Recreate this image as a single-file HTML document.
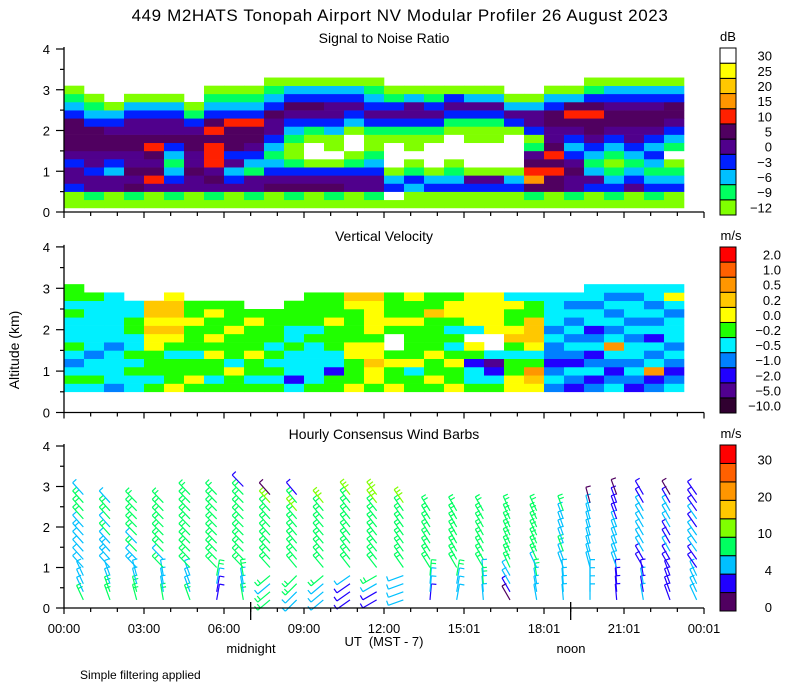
<!DOCTYPE html>
<html><head><meta charset="utf-8">
<style>
body{margin:0;background:#fff;}
svg{display:block;font-family:"Liberation Sans",sans-serif;}
</style></head>
<body>
<svg id="chart" width="800" height="700" viewBox="0 0 800 700" xmlns="http://www.w3.org/2000/svg">
<rect x="0" y="0" width="800" height="700" fill="#fff"/>
<text x="400" y="21" font-size="17" text-anchor="middle" letter-spacing="0.6">449 M2HATS Tonopah Airport NV Modular Profiler 26 August 2023</text>
<text x="384" y="43" font-size="14" text-anchor="middle">Signal to Noise Ratio</text>
<text x="384" y="241" font-size="14" text-anchor="middle">Vertical Velocity</text>
<text x="384" y="439" font-size="14" text-anchor="middle">Hourly Consensus Wind Barbs</text>
<text transform="translate(19,350) rotate(-90)" font-size="14" text-anchor="middle">Altitude (km)</text>
<text x="384" y="646" font-size="13" text-anchor="middle" xml:space="preserve">UT  (MST - 7)</text>
<text x="251" y="653" font-size="13" text-anchor="middle">midnight</text>
<text x="571" y="653" font-size="13" text-anchor="middle">noon</text>
<text x="80" y="679" font-size="12">Simple filtering applied</text>
<g id="snr"></g>
<g id="vv"></g>
<g id="wind"></g>
<g id="axes"></g>
<g id="bars"></g>
</svg>
<script>
// ---------- data ----------
const snrTimes = [0,0.75,1.5,2.25,3,3.75,4.5,5.25,6,6.75,7.5,8.25,9,9.75,10.5,11.25,12,12.75,13.5,14.25,15,15.75,16.5,17.25,18,18.75,19.5,20.25,21,21.75,22.5];
// columns: rows bottom->top, 0.2 km rows starting at 0.1 km
const snrCols = ["aadeedeffffdcba.","abeedeefffdcba..","aaeecdeffedca...","abfefeeffeedca..","aaegfefgfeedca..","abedcbcdfeedca..","aaeefeeffedba...","abefegggfgfdcba.","aaedcedfffgdcba.","abeebcdeffgdcba.","aafedcbcdeefdcba","abfedbaabcdefdca","aafedaWWabdefdca","abfedaWaacdeedca","aaeedbaWWacdedca","abeedcbaabdedcba","aWdcaWWWabdedba.","aacdbaWaabdeeca.","aadcaWWWabdedba.","aadcbaWWWabdeda.","aadeaWWWaabdeca.","aadeaWWWaabdeca.","aadcaWWWWadeca..","abfhgfebadeeca..","aaffgfgfeeffdca.","abeefedcdefgfca.","aadecbcdeffgfdba","abdcbabcdeffedca","aaedcbcdeeffedca","abdcbcdcdeffedca","aadcbaWbcdeffdca"];
const snrCodes = "abcdefghijW";
const snrLabels = ["-12","-9","-6","-3","0","5","10","15","20","25","30"];
const vvTimes = snrTimes;
// rows bottom->top, 0.2 km rows starting at 0.5 km
const vvCols = ["cgcbcgcccgcgg","cgccbccccccg.","bccccbcccccc.","ccgcgccggcc..","gcgggyyoyoo..","ygggcgyoyooy.","gyggcgggygg..","gcggygyggyg..","ggycgggyggg..","gcggygggyg...","gcgcgcgggg...","cBcccgccggg..","gcccccgcgggg.","ggBccgggyggg.","ygggyyggggyo.","gyyoyygyyyyo.","yggyg..gyggg.","ggcyggggyggy.","gyggyggggogg.","yggygcgcgyyg.","gccBgy.cyyyy.","gcBpc..yyyyy.","yyggcgoyggyc.","yoOgcyoooggc.","bcbBbbcbcccc.","BbcBbcbcbcbc.","bBcbBcbBccbcc","cbBbcOcbcbcbc","Bbcbccbcbccbc","bBOcbcBcbcbcc","cbBbcbcccbcyc"];
const vvCodes = "kpBbcgyoOar";
const vvLabels = ["-10.0","-5.0","-2.0","-1.0","-0.5","-0.2","0.0","0.2","0.5","1.0","2.0"];
const windHours = [0,1,2,3,4,5,6,7,8,9,10,11,12,13,14,15,16,17,18,19,20,21,22,23];
// speeds (m/s) at levels 0.2, 0.4, ... km
const windSpd = [
[8,5,5,5,5,5,5,5,6,5,8,8,7,5],[8,8,5,5,5,6,6,5,8,5,8,8,5],[8,8,5,5,6,5,8,5,8,8,8,8,8],[8,5,5,5,8,5,8,8,8,8,8,8,8],
[8,5,5,5,8,8,8,8,8,8,8,8,8,8],[3,3,5,8,8,8,8,8,8,8,8,8,8,8],[8,5,5,8,8,8,8,8,8,8,8,8,8,8,3],[8,8,5,8,8,8,8,8,8,8,8,8,11,1],
[5,5,8,8,8,8,8,8,8,8,8,11,8,3],[5,5,5,8,8,8,8,8,8,8,8,8,11],[3,3,3,5,8,8,8,8,8,8,8,8,8,11],[3,3,5,8,8,8,8,8,8,8,8,8,11,11],
[5,5,5,5,8,8,8,8,8,8,8,8,11],[3,5,5,8,8,8,8,8,8,8,8,8],[5,5,5,8,8,8,8,8,8,8,8,8],[5,5,8,5,8,8,8,8,8,8,8,8],
[1,3,5,5,8,8,8,8,8,8,8,8],[5,5,5,8,5,8,8,8,8,8,8,8],[5,5,5,5,5,5,8,5,5,5,5,8],[5,5,5,5,5,5,5,5,5,5,5,5,1],
[3,3,3,3,5,5,5,5,5,5,3,3,3,1],[5,3,5,3,3,3,5,5,5,5,5,5,3,3],[3,3,3,3,3,3,5,3,3,5,5,5,3,1],[5,5,5,5,3,3,5,5,5,3,5,3,3,3]];
const windDirUpper = [318,318,316,316,316,316,316,318,320,320,322,322,325,328,330,330,335,335,340,345,340,330,330,325];
const windDirLower = [335,340,345,350,340,10,350,230,225,230,235,240,250,5,10,355,330,350,355,0,355,350,340,335];
const windLevels = ["0","4","10","20","30"];
// ---------- helpers ----------
const NS="http://www.w3.org/2000/svg";
function mk(tag,attrs,parent){const e=document.createElementNS(NS,tag);for(const k in attrs)e.setAttribute(k,attrs[k]);parent.appendChild(e);return e;}
const X=t=>64+t*26.667;
const Y1=z=>212-z*40.75, Y2=z=>412.5-z*41.4, Y3=z=>608-z*40.5;
const snrColors=["#80ff00","#00ff60","#00c0ff","#0020ff","#50008c","#500060","#ff2000","#ff9600","#ffc800","#ffff00","#ffffff"];
const vvColors=["#300030","#500090","#2000ff","#0080ff","#00f0ff","#20ff00","#ffff00","#ffc800","#ff9600","#ff6000","#ff0000"];
const windColors=["#500060","#2000ff","#00c0ff","#00ff60","#80ff00","#ffc800","#ff9600","#ff6000","#ff0000"];
const windBins=[2,4,7,10,15,20,25,30];
// ---------- SNR ----------
const gS=document.getElementById('snr');
snrCols.forEach((col,i)=>{const t0=snrTimes[i],t1=t0+0.75;
 for(let r=0;r<col.length;r++){const c=col[r];if(c==='.')continue;const idx=snrCodes.indexOf(c);
  const z0=0.1+0.2*r,z1=z0+0.2;
  const el=mk('rect',{x:X(t0),y:Y1(z1),width:X(t1)-X(t0)+0.3,height:Y1(z0)-Y1(z1)+0.3,fill:snrColors[idx]},gS);
  
  }});
// ---------- VV ----------
const gV=document.getElementById('vv');
vvCols.forEach((col,i)=>{const t0=vvTimes[i],t1=t0+0.75;
 for(let r=0;r<col.length;r++){const c=col[r];if(c==='.')continue;const idx=vvCodes.indexOf(c);
  const z0=0.5+0.2*r,z1=z0+0.2;
  const el=mk('rect',{x:X(t0),y:Y2(z1),width:X(t1)-X(t0)+0.3,height:Y2(z0)-Y2(z1)+0.3,fill:vvColors[idx]},gV);
  
  }});
// ---------- wind barbs ----------
const gW=document.getElementById('wind');
windHours.forEach((h,i)=>{const sp=windSpd[i];
 sp.forEach((s,l)=>{const z=0.2+0.2*l;const d=(z<1?windDirLower[i]:windDirUpper[i])*Math.PI/180;
  let b=0;while(b<windBins.length&&s>=windBins[b])b++;const col=windColors[b];
  const x0=X(h+0.5)+6,y0=Y3(z),L=16;const ex=x0+L*Math.sin(d),ey=y0-L*Math.cos(d);
  let p=`M${x0},${y0}L${ex},${ey}`;const n=Math.max(1,Math.round(s/4));
  const px=Math.cos(d),py=Math.sin(d);
  for(let k=0;k<n;k++){const f=1-k*0.22;const bx=x0+L*f*Math.sin(d),by=y0-L*f*Math.cos(d);p+=`M${bx},${by}l${5*px},${5*py}`;}
  const el=mk('path',{d:p,stroke:col,'stroke-width':1.2,fill:'none'},gW);
  
  });});
// ---------- axes ----------
const gA=document.getElementById('axes');
[[Y1,'snr'],[Y2,'vv'],[Y3,'wind']].forEach(([Y,nm])=>{
 const ax=mk('path',{d:`M64,${Y(4)-2}L64,${Y(0)}L704,${Y(0)}`,stroke:'#000','stroke-width':1.3,fill:'none'},gA);
 
 
 for(let z=0;z<=4;z+=0.5){const major=Number.isInteger(z);mk('line',{x1:major?56:60,x2:64,y1:Y(z),y2:Y(z),stroke:'#000','stroke-width':1.2},gA);
  if(major){const tl=mk('text',{x:50,y:Y(z)+5,'font-size':13,'text-anchor':'end'},gA);tl.textContent=z;
   
   }}
 for(let t=0;t<=24;t++){const major=t%3===0;mk('line',{x1:X(t),x2:X(t),y1:Y(0),y2:Y(0)+(major?6:4),stroke:'#000','stroke-width':1.2},gA);}
});
const xl=["00:00","03:00","06:00","09:00","12:00","15:01","18:01","21:01","00:01"];
xl.forEach((s,i)=>{const t=mk('text',{x:X(i*3),y:633,'font-size':13,'text-anchor':'middle'},gA);t.textContent=s;
 
 });
[7,19].forEach(t=>mk('line',{x1:X(t),x2:X(t),y1:602,y2:620,stroke:'#000','stroke-width':1.3},gA));
// ---------- colorbars ----------
const gB=document.getElementById('bars');
function bar(colors,labels,top,bottom,unit,nm,labelAt){const n=colors.length,h=(bottom-top)/n;
 colors.forEach((c,i)=>{const el=mk('rect',{x:720,y:bottom-(i+1)*h,width:16,height:h,fill:c,stroke:'#000','stroke-width':1},gB);
  
  });
 labels.forEach((s,i)=>{const yy=labelAt?labelAt(i,h):bottom-(i+0.5)*h;const t=mk('text',{x:nm==='vv'?781:772,y:yy+5,'font-size':13,'text-anchor':'end'},gB);t.textContent=s.replace('-','\u2212');
  
  });
 const u=mk('text',{x:nm==='snr'?728:731,y:top-7,'font-size':13,'text-anchor':'middle'},gB);u.textContent=unit;
 
 }
bar(snrColors,snrLabels,48,215,'dB','snr');
bar(vvColors,vvLabels,247,413,'m/s','vv');
bar(windColors,windLevels,445,611,'m/s','wind',(i,h)=>611-i*2*h-4);
</script>
</body></html>
